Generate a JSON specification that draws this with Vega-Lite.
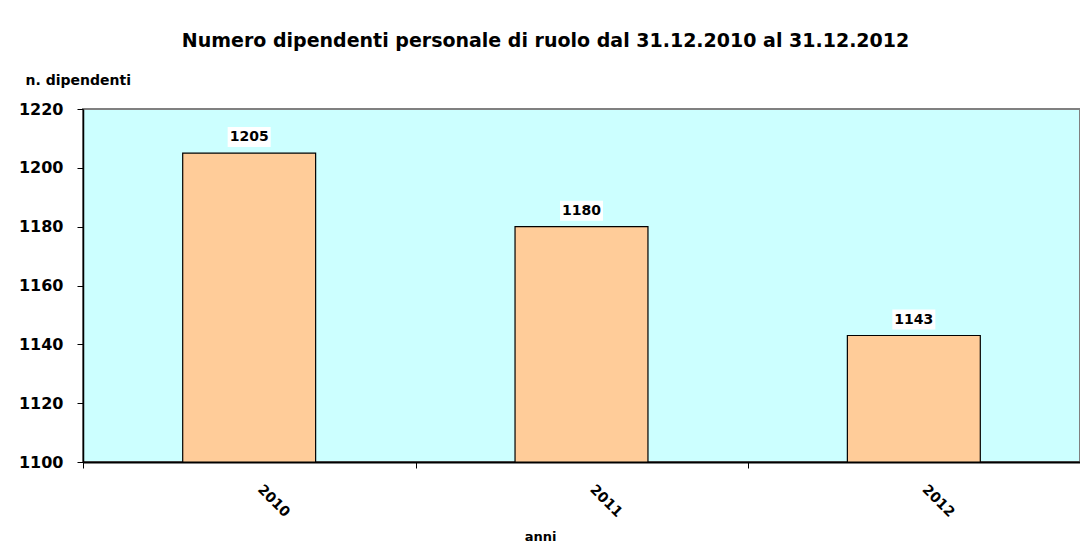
{
  "$schema": "https://vega.github.io/schema/vega-lite/v6.json",
  "width": 997,
  "height": 353,
  "autosize": {"type": "none"},
  "padding": {"left": 83, "top": 109, "right": 0, "bottom": 86},
  "background": "white",
  "title": {
    "text": "Numero dipendenti personale di ruolo dal 31.12.2010 al 31.12.2012",
    "font": "DejaVu Sans",
    "fontSize": 19,
    "fontWeight": "bold",
    "color": "black",
    "anchor": "middle",
    "frame": "group",
    "baseline": "alphabetic",
    "dx": -36,
    "offset": 7
  },
  "data": {
    "values": [
      {"anno": "2010", "dipendenti": 1205},
      {"anno": "2011", "dipendenti": 1180},
      {"anno": "2012", "dipendenti": 1143}
    ]
  },
  "encoding": {
    "x": {
      "field": "anno",
      "type": "ordinal",
      "scale": {"paddingInner": 0.6, "paddingOuter": 0.3},
      "axis": {
        "title": "anni",
        "titleFont": "DejaVu Sans",
        "titleFontSize": 13,
        "titleFontWeight": "bold",
        "titleColor": "black",
        "titleX": 457,
        "titleY": 74,
        "titleBaseline": "middle",
        "labelAngle": 45,
        "labelAlign": "left",
        "labelBaseline": "top",
        "labelFont": "DejaVu Sans",
        "labelFontSize": 14,
        "labelFontWeight": "bold",
        "labelColor": "black",
        "labelPadding": 14,
        "labelOffset": 181,
        "ticks": true,
        "tickOffset": -166,
        "tickSize": 6,
        "tickColor": "black",
        "tickWidth": 1,
        "domainColor": "black",
        "domainWidth": 2,
        "grid": false
      }
    },
    "y": {
      "field": "dipendenti",
      "type": "quantitative",
      "scale": {"domain": [1100, 1220], "zero": false, "nice": false},
      "axis": {
        "title": "n. dipendenti",
        "titleFont": "DejaVu Sans",
        "titleFontSize": 14,
        "titleFontWeight": "bold",
        "titleColor": "black",
        "titleAngle": 0,
        "titleAlign": "left",
        "titleBaseline": "middle",
        "titleX": -58,
        "titleY": -29,
        "values": [1100, 1120, 1140, 1160, 1180, 1200, 1220],
        "format": "d",
        "labelFont": "DejaVu Sans",
        "labelFontSize": 16,
        "labelFontWeight": "bold",
        "labelColor": "black",
        "labelPadding": 14,
        "tickSize": 6,
        "tickColor": "black",
        "domainColor": "black",
        "domainWidth": 1.5,
        "grid": false
      }
    }
  },
  "layer": [
    {
      "mark": {"type": "bar", "fill": "#FFCC99", "stroke": "black", "strokeWidth": 1.2},
      "encoding": {"y2": {"datum": 1100}}
    },
    {
      "mark": {
        "type": "point",
        "shape": "M-1,-1.21H1V-0.28H-1Z",
        "size": 1849,
        "filled": true,
        "fill": "white",
        "stroke": null,
        "opacity": 1
      }
    },
    {
      "mark": {
        "type": "text",
        "font": "DejaVu Sans",
        "fontSize": 14,
        "fontWeight": "bold",
        "color": "black",
        "baseline": "middle",
        "dy": -16
      },
      "encoding": {"text": {"field": "dipendenti", "type": "quantitative"}}
    }
  ],
  "config": {
    "view": {"fill": "#CCFFFF", "stroke": "#808080", "strokeWidth": 2}
  }
}
